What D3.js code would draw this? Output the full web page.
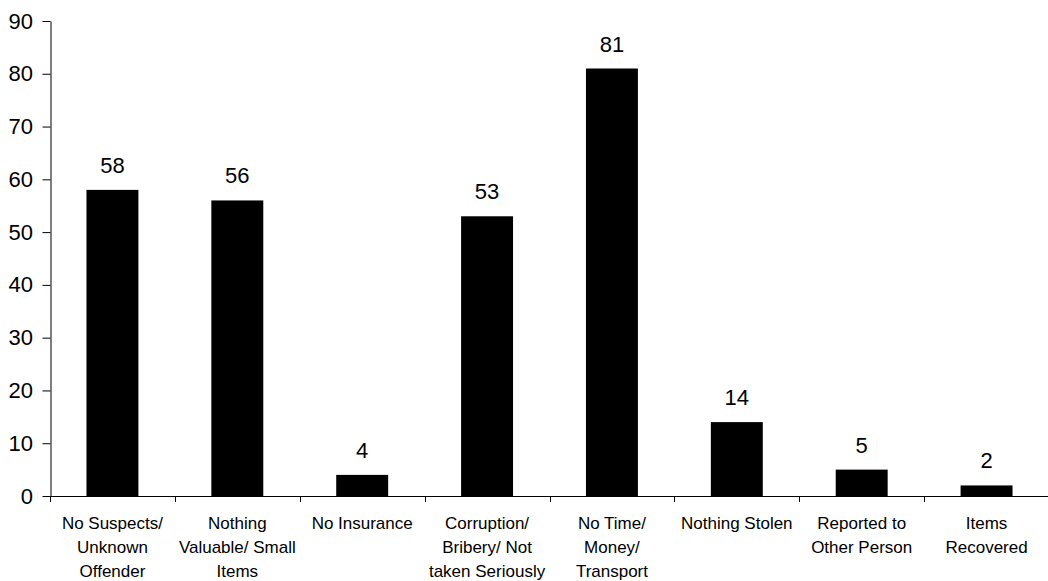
<!DOCTYPE html>
<html>
<head>
<meta charset="utf-8">
<script src="https://cdn.jsdelivr.net/npm/d3@7"></script>
<style>
  html, body { margin: 0; padding: 0; background: #fff; }
  svg { display: block; font-family: "Liberation Sans", Arial, sans-serif; }
</style>
</head>
<body>
<svg id="chart" width="1048" height="581"></svg>
<script>
const categories = [
  "No Suspects/\nUnknown\nOffender",
  "Nothing\nValuable/ Small\nItems",
  "No Insurance",
  "Corruption/\nBribery/ Not\ntaken Seriously",
  "No Time/\nMoney/\nTransport",
  "Nothing Stolen",
  "Reported to\nOther Person",
  "Items\nRecovered"
];
const values = [58, 56, 4, 53, 81, 14, 5, 2];
const yTicks = [0, 10, 20, 30, 40, 50, 60, 70, 80, 90];

const svg = d3.select("#chart");
const plotLeft = 50, plotRight = 1049, plotTop = 21, plotBottom = 496;

const x = d3.scaleBand().domain(categories).range([plotLeft, plotRight]).padding(0);
const y = d3.scaleLinear().domain([0, 90]).range([plotBottom, plotTop]);
const barW = x.bandwidth() * 0.416;

// bars
svg.append("g").selectAll("rect")
  .data(values)
  .join("rect")
  .attr("x", (d, i) => x(categories[i]) + (x.bandwidth() - barW) / 2)
  .attr("y", d => y(d))
  .attr("width", barW)
  .attr("height", d => y(0) - y(d))
  .attr("fill", "#000");

// value labels
svg.append("g").selectAll("text")
  .data(values)
  .join("text")
  .attr("x", (d, i) => x(categories[i]) + x.bandwidth() / 2)
  .attr("y", d => y(d) - 17)
  .attr("text-anchor", "middle")
  .attr("font-size", 22)
  .attr("fill", "#000")
  .text(d => d);

// y axis
const yAxis = svg.append("g")
  .attr("transform", `translate(${plotLeft + 0.5},0)`)
  .call(d3.axisLeft(y).tickValues(yTicks).tickSize(8).tickPadding(9.5).tickSizeOuter(0));
yAxis.select(".domain").attr("stroke", "#000");
yAxis.selectAll(".tick line").attr("stroke", "#000");
yAxis.selectAll(".tick text")
  .attr("font-size", 22)
  .attr("font-family", "Liberation Sans, Arial, sans-serif")
  .attr("fill", "#000");

// x axis line
svg.append("line")
  .attr("x1", plotLeft).attr("x2", plotRight)
  .attr("y1", plotBottom + 0.5).attr("y2", plotBottom + 0.5)
  .attr("stroke", "#000");

// x ticks at category boundaries
const bounds = categories.map(c => x(c)).concat([plotRight]);
svg.append("g").selectAll("line")
  .data(bounds)
  .join("line")
  .attr("x1", d => Math.round(d) + 0.5).attr("x2", d => Math.round(d) + 0.5)
  .attr("y1", plotBottom).attr("y2", plotBottom + 6)
  .attr("stroke", "#000");

// x labels
const xl = svg.append("g").selectAll("text")
  .data(categories)
  .join("text")
  .attr("x", d => x(d) + x.bandwidth() / 2)
  .attr("y", 529)
  .attr("text-anchor", "middle")
  .attr("font-size", 17)
  .attr("fill", "#000");
xl.each(function(d) {
  const t = d3.select(this);
  const cx = x(d) + x.bandwidth() / 2;
  d.split("\n").forEach((line, i) => {
    t.append("tspan").attr("x", cx).attr("dy", i === 0 ? 0 : 24).text(line);
  });
});
</script>
</body>
</html>
